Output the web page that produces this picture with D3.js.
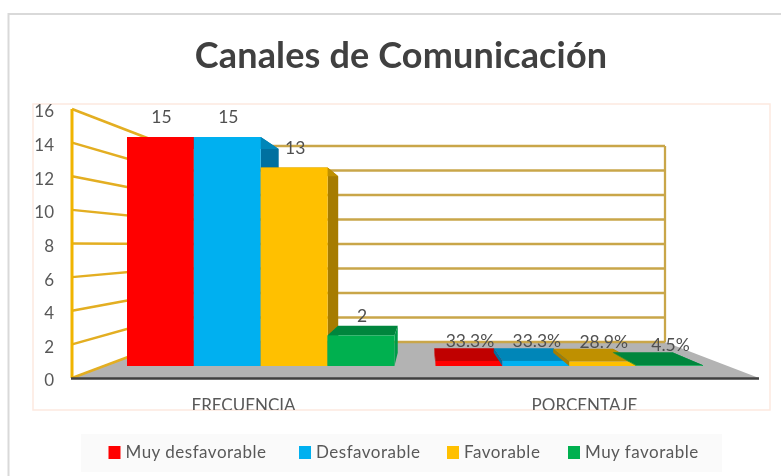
<!DOCTYPE html>
<meta charset="utf-8">
<style>
body { margin: 0; background: #fff; }
text { font-family: Lato, "Open Sans", sans-serif; fill: #595959; }
</style>
<body>
<script src="https://d3js.org/d3.v7.min.js"></script>
<script>
// data
var categories = ["FRECUENCIA", "PORCENTAJE"];
var seriesNames = ["Muy desfavorable", "Desfavorable", "Favorable", "Muy favorable"];
var frecuencia = [15, 15, 13, 2];
var porcentaje = [33.3, 33.3, 28.9, 4.5];
var yTicks = [0, 2, 4, 6, 8, 10, 12, 14, 16];

var front = ["#ff0000", "#00b0f0", "#ffc000", "#00b050"];
var top_ = ["#c00000", "#0086b8", "#bf9000", "#00863c"];
var side = ["#d80000", "#0070a0", "#a67c00", "#009a48"];

var width = 781, height = 476;

// floor corners, wall depth and vanishing point of the fake 3d box
var floor = {x0: 72, x1: 759, y0: 378, bx0: 168, bx1: 665, by0: 342, by1: 146};
var vp = {x: 424, y: 246};
var barDepth = 0.11;

var svg = d3.select("body").append("svg")
    .attr("width", width)
    .attr("height", height);

var defs = svg.append("defs");
defs.append("filter").attr("id", "soft")
  .append("feGaussianBlur").attr("stdDeviation", 0.45);
defs.append("clipPath").attr("id", "frame")
  .append("rect").attr("x", 33).attr("y", 104).attr("width", 737).attr("height", 306);

var g = svg.append("g").attr("filter", "url(#soft)");

// card border (only top and left show)
g.append("path")
    .attr("d", "M8.5,476V14H781")
    .attr("fill", "none")
    .attr("stroke", "#d9d9d9")
    .attr("stroke-width", 2);

g.append("text")
    .attr("x", 401)
    .attr("y", 68)
    .attr("text-anchor", "middle")
    .attr("font-size", 36)
    .attr("font-weight", 700)
    .attr("letter-spacing", 0.15)
    .style("fill", "#404040")
    .text("Canales de Comunicación");

g.append("rect")
    .attr("x", 33).attr("y", 104).attr("width", 737).attr("height", 306)
    .attr("fill", "none")
    .attr("stroke", "#fde9df")
    .attr("stroke-width", 1.5);

// scales
var yFront = d3.scaleLinear().domain([0, 16]).range([floor.y0, 109]);
var yBack = d3.scaleLinear().domain([0, 16]).range([floor.by0, floor.by1]);
var yBar = d3.scaleLinear().domain([0, 15]).range([366, 137]);

var xGroup = d3.scaleBand().domain(categories).range([127, 703]).paddingInner(0.133);
var xBar = d3.scaleBand().domain(seriesNames).range([0, xGroup.bandwidth()]);

// point pulled towards the vanishing point
function deep(p) {
  return [p[0] + (vp.x - p[0]) * barDepth, p[1] + (vp.y - p[1]) * barDepth];
}

// floor
g.append("polygon")
    .attr("points", [[floor.x0, floor.y0], [floor.bx0, floor.by0], [floor.bx1, floor.by0], [floor.x1, floor.y0]].join(" "))
    .attr("fill", "#b3b3b3");

// back wall
g.append("g").selectAll("line")
    .data(yTicks)
    .enter().append("line")
    .attr("x1", floor.bx0)
    .attr("x2", floor.bx1)
    .attr("y1", yBack)
    .attr("y2", yBack)
    .attr("stroke", "#c9a64a")
    .attr("stroke-width", 2.3);

g.append("line")
    .attr("x1", floor.bx1).attr("x2", floor.bx1)
    .attr("y1", yBack(16)).attr("y2", yBack(0))
    .attr("stroke", "#c9a64a")
    .attr("stroke-width", 2.3);

// side wall
g.append("g").selectAll("line")
    .data(yTicks)
    .enter().append("line")
    .attr("x1", floor.x0)
    .attr("x2", floor.bx0)
    .attr("y1", yFront)
    .attr("y2", yBack)
    .attr("stroke", "#e3ae20")
    .attr("stroke-width", 2.5);

g.append("line")
    .attr("x1", floor.x0).attr("x2", floor.x0)
    .attr("y1", yFront(16)).attr("y2", yFront(0))
    .attr("stroke", "#f0b400")
    .attr("stroke-width", 3);

// axis base line
g.append("line")
    .attr("x1", floor.x0 - 1).attr("x2", floor.x1)
    .attr("y1", floor.y0 + 0.5).attr("y2", floor.y0 + 0.5)
    .attr("stroke", "#404040")
    .attr("stroke-width", 2.5);

// bars: the percent group is plotted as a fraction on the same axis
var rows = [];
categories.forEach(function(c, ci) {
  seriesNames.forEach(function(s, i) {
    rows.push({
      cat: c,
      name: s,
      i: i,
      value: ci == 0 ? frecuencia[i] : porcentaje[i] / 100,
      label: ci == 0 ? String(frecuencia[i]) : porcentaje[i] + "%"
    });
  });
});

var bars = g.append("g").selectAll("g")
    .data(rows)
    .enter().append("g");

function poly(points) { return points.join(" "); }
function x0(d) { return xGroup(d.cat) + xBar(d.name); }
function x1(d) { return x0(d) + xBar.bandwidth(); }

// left face
bars.append("polygon")
    .attr("points", function(d) {
      return poly([[x0(d), yBar(0)], [x0(d), yBar(d.value)], deep([x0(d), yBar(d.value)]), deep([x0(d), yBar(0)])]);
    })
    .attr("fill", function(d) { return side[d.i]; });

// right face
bars.append("polygon")
    .attr("points", function(d) {
      return poly([[x1(d), yBar(0)], [x1(d), yBar(d.value)], deep([x1(d), yBar(d.value)]), deep([x1(d), yBar(0)])]);
    })
    .attr("fill", function(d) { return side[d.i]; });

// top face
bars.append("polygon")
    .attr("points", function(d) {
      return poly([[x0(d), yBar(d.value)], [x1(d), yBar(d.value)], deep([x1(d), yBar(d.value)]), deep([x0(d), yBar(d.value)])]);
    })
    .attr("fill", function(d) { return top_[d.i]; });

bars.append("rect")
    .attr("x", x0)
    .attr("y", function(d) { return yBar(d.value); })
    .attr("width", xBar.bandwidth())
    .attr("height", function(d) { return yBar(0) - yBar(d.value); })
    .attr("fill", function(d) { return front[d.i]; });

// value labels
g.append("g").selectAll("text")
    .data(rows)
    .enter().append("text")
    .attr("x", function(d) { return x0(d) + xBar.bandwidth() / 2 + 1; })
    .attr("y", function(d) { return yBar(d.value) - 20; })
    .attr("dy", "0.35em")
    .attr("text-anchor", "middle")
    .attr("font-size", 17.5)
    .style("fill", "#505050")
    .text(function(d) { return d.label; });

// axis labels, cut off by the frame as in the picture
var clipped = g.append("g").attr("clip-path", "url(#frame)");

var yAxis = clipped.append("g")
    .attr("transform", "translate(" + floor.x0 + ",2.5)")
    .call(d3.axisLeft(yFront).tickValues(yTicks).tickSize(0).tickPadding(18));
yAxis.select(".domain").remove();
yAxis.selectAll("text")
    .attr("font-size", 17)
    .attr("font-family", "Lato")
    .style("fill", "#595959");

clipped.selectAll(".cat")
    .data(categories)
    .enter().append("text")
    .attr("class", "cat")
    .attr("x", function(c) {
      // bar group centre pushed forward onto the floor edge
      var mid = xGroup(c) + xGroup.bandwidth() / 2;
      return mid + (mid - vp.x) * 0.105;
    })
    .attr("y", 411)
    .attr("text-anchor", "middle")
    .attr("font-size", 17)
    .text(function(c) { return c; });

// legend
g.append("rect")
    .attr("x", 81).attr("y", 434).attr("width", 641).attr("height", 38)
    .attr("fill", "#fafafa");

var legendX = d3.scaleOrdinal().domain(seriesNames).range([108.5, 299, 447, 568]);

var legend = g.append("g").selectAll("g")
    .data(seriesNames)
    .enter().append("g")
    .attr("transform", function(d) { return "translate(" + legendX(d) + ",446)"; });

legend.append("rect")
    .attr("width", 12)
    .attr("height", 13)
    .attr("fill", function(d, i) { return front[i]; });

legend.append("text")
    .attr("x", 17)
    .attr("y", 6.5)
    .attr("dy", "0.35em")
    .attr("font-size", 17)
    .attr("letter-spacing", 0.5)
    .text(function(d) { return d; });
</script>
</body>
